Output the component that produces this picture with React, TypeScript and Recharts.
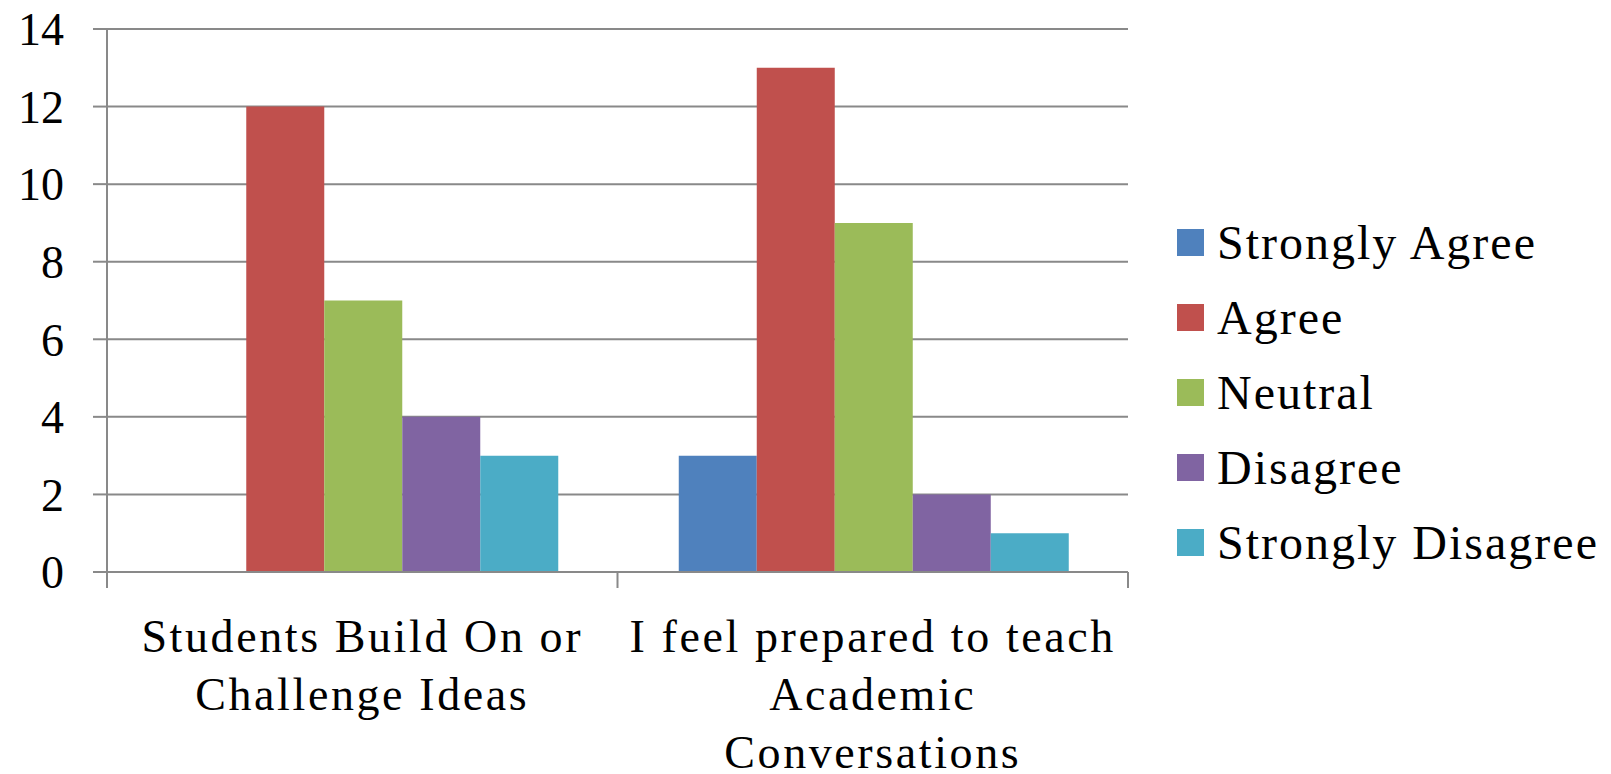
import React from 'react';
import { BarChart, Bar, XAxis, YAxis, CartesianGrid, Legend } from 'recharts';

const categories = ['Students Build On or Challenge Ideas', 'I feel prepared to teach Academic Conversations'];
// how each category name breaks under the axis
const categoryLines = [
  ['Students Build On or', 'Challenge Ideas'],
  ['I feel prepared to teach', 'Academic', 'Conversations'],
];

const stronglyAgree = [0, 3];
const agree = [12, 13];
const neutral = [7, 9];
const disagree = [4, 2];
const stronglyDisagree = [3, 1];

const yTicks = [0, 2, 4, 6, 8, 10, 12, 14];

const series = [
  { key: 'stronglyAgree', name: 'Strongly Agree', color: '#4F81BD', values: stronglyAgree },
  { key: 'agree', name: 'Agree', color: '#C0504D', values: agree },
  { key: 'neutral', name: 'Neutral', color: '#9BBB59', values: neutral },
  { key: 'disagree', name: 'Disagree', color: '#8064A2', values: disagree },
  { key: 'stronglyDisagree', name: 'Strongly Disagree', color: '#4BACC6', values: stronglyDisagree },
];

const data = categories.map((category, i) => {
  const row: Record<string, string | number> = { category };
  series.forEach(s => { row[s.key] = s.values[i]; });
  return row;
});

const FONT = '"Liberation Serif", "Times New Roman", serif';
const AXIS_GRAY = '#898989';

// category label plus the boundary tick marks Excel draws between groups
const CategoryTick = (props: any) => {
  const { x, y, payload, index, visibleTicksCount } = props;
  const half = payload?.offset ?? 255;
  const lines = categoryLines[index] || [String(payload.value)];
  const isLast = index === visibleTicksCount - 1;
  return (
    <g>
      <line x1={x - half} x2={x - half} y1={y} y2={y + 16} stroke={AXIS_GRAY} strokeWidth={2} />
      {isLast && <line x1={x + half} x2={x + half} y1={y} y2={y + 16} stroke={AXIS_GRAY} strokeWidth={2} />}
      {lines.map((line, i) => (
        <text key={i} x={x} y={y + 80 + i * 58} textAnchor="middle" fill="#000"
          fontFamily={FONT} fontSize={46} letterSpacing={2.6}>
          {line}
        </text>
      ))}
    </g>
  );
};

// keep legend rows in series order rather than alphabetical
const seriesOrder = (value: string) => series.findIndex(s => s.name === value);

const LegendContent = (props: any) => {
  const entries = [...(props.payload || [])].sort((a: any, b: any) => seriesOrder(a.value) - seriesOrder(b.value));
  return (
    <div style={{ fontFamily: FONT, fontSize: 48, color: '#000', letterSpacing: 2 }}>
      {entries.map((entry: any) => (
        <div key={entry.value} style={{ display: 'flex', alignItems: 'center', height: 75, whiteSpace: 'nowrap' }}>
          <span style={{ width: 27, height: 27, background: entry.color, marginRight: 13, display: 'inline-block' }} />
          <span style={{ lineHeight: '75px' }}>{entry.value}</span>
        </div>
      ))}
    </div>
  );
};

export default function App() {
  return (
    <div style={{ position: 'absolute', left: 0, top: 0, width: 1611, height: 774, background: '#fff', fontFamily: FONT }}>
      <BarChart
        width={1611}
        height={774}
        data={data}
        margin={{ top: 29, right: 483, bottom: 0, left: 0 }}
        barGap={0}
        barCategoryGap="12%"
      >
        <CartesianGrid vertical={false} stroke={AXIS_GRAY} strokeWidth={2} />
        <XAxis
          dataKey="category"
          height={202}
          interval={0}
          tickLine={false}
          tickSize={0}
          tickMargin={0}
          axisLine={{ stroke: AXIS_GRAY, strokeWidth: 2 }}
          tick={<CategoryTick />}
        />
        <YAxis
          width={107}
          domain={[0, 14]}
          ticks={yTicks}
          interval={0}
          tickSize={14}
          tickMargin={29}
          axisLine={{ stroke: AXIS_GRAY, strokeWidth: 2 }}
          tickLine={{ stroke: AXIS_GRAY, strokeWidth: 2 }}
          tick={{ fill: '#000', fontSize: 46, fontFamily: FONT }}
        />
        <Legend
          layout="vertical"
          align="center"
          verticalAlign="middle"
          wrapperStyle={{ left: 1177, top: 205, width: 430 }}
          content={<LegendContent />}
        />
        {series.map(s => (
          <Bar key={s.key} dataKey={s.key} name={s.name} fill={s.color} isAnimationActive={false} />
        ))}
      </BarChart>
    </div>
  );
}
